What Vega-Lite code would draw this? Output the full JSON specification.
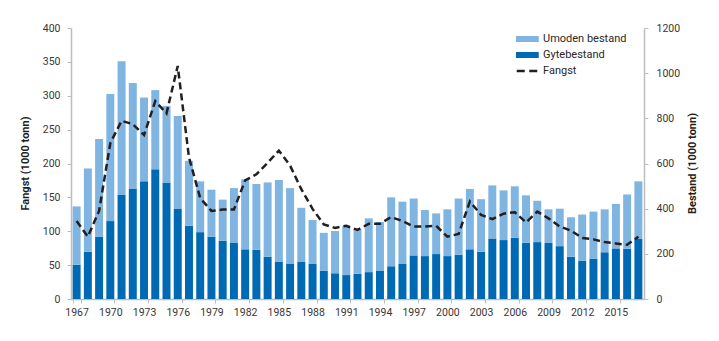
{
  "$schema": "https://vega.github.io/schema/vega-lite/v6.json",
  "autosize": {"type": "none"},
  "width": 573,
  "height": 271,
  "padding": {"left": 71, "top": 28, "right": 75, "bottom": 42},
  "background": "white",
  "config": {
    "view": {"stroke": null},
    "font": "Roboto",
    "axis": {
      "domainColor": "#bdbdbd",
      "domainWidth": 1.5,
      "tickColor": "#bdbdbd",
      "tickSize": 4,
      "labelColor": "#3a3535",
      "labelFont": "Roboto",
      "labelFontSize": 10.5,
      "titleFont": "Roboto",
      "titleFontSize": 11,
      "titleFontWeight": "bold",
      "titleColor": "#231f20",
      "grid": false
    }
  },
  "data": {
    "values": [
      {"year": 1967, "Gytebestand": 152, "Umoden bestand": 258, "Fangst": 115},
      {"year": 1968, "Gytebestand": 209, "Umoden bestand": 369, "Fangst": 92},
      {"year": 1969, "Gytebestand": 276, "Umoden bestand": 432, "Fangst": 130},
      {"year": 1970, "Gytebestand": 345, "Umoden bestand": 563, "Fangst": 230},
      {"year": 1971, "Gytebestand": 460, "Umoden bestand": 593, "Fangst": 263},
      {"year": 1972, "Gytebestand": 487, "Umoden bestand": 469, "Fangst": 258},
      {"year": 1973, "Gytebestand": 521, "Umoden bestand": 371, "Fangst": 242},
      {"year": 1974, "Gytebestand": 574, "Umoden bestand": 351, "Fangst": 292},
      {"year": 1975, "Gytebestand": 516, "Umoden bestand": 339, "Fangst": 274},
      {"year": 1976, "Gytebestand": 398, "Umoden bestand": 412, "Fangst": 344},
      {"year": 1977, "Gytebestand": 324, "Umoden bestand": 288, "Fangst": 209},
      {"year": 1978, "Gytebestand": 296, "Umoden bestand": 225, "Fangst": 149},
      {"year": 1979, "Gytebestand": 276, "Umoden bestand": 208, "Fangst": 130},
      {"year": 1980, "Gytebestand": 258, "Umoden bestand": 182, "Fangst": 132},
      {"year": 1981, "Gytebestand": 248, "Umoden bestand": 243, "Fangst": 132},
      {"year": 1982, "Gytebestand": 220, "Umoden bestand": 310, "Fangst": 175},
      {"year": 1983, "Gytebestand": 218, "Umoden bestand": 291, "Fangst": 184},
      {"year": 1984, "Gytebestand": 187, "Umoden bestand": 329, "Fangst": 201},
      {"year": 1985, "Gytebestand": 164, "Umoden bestand": 363, "Fangst": 219},
      {"year": 1986, "Gytebestand": 155, "Umoden bestand": 336, "Fangst": 197},
      {"year": 1987, "Gytebestand": 164, "Umoden bestand": 240, "Fangst": 162},
      {"year": 1988, "Gytebestand": 155, "Umoden bestand": 195, "Fangst": 133},
      {"year": 1989, "Gytebestand": 125, "Umoden bestand": 168, "Fangst": 110},
      {"year": 1990, "Gytebestand": 114, "Umoden bestand": 187, "Fangst": 105},
      {"year": 1991, "Gytebestand": 106, "Umoden bestand": 216, "Fangst": 108},
      {"year": 1992, "Gytebestand": 112, "Umoden bestand": 198, "Fangst": 102},
      {"year": 1993, "Gytebestand": 119, "Umoden bestand": 238, "Fangst": 111},
      {"year": 1994, "Gytebestand": 124, "Umoden bestand": 217, "Fangst": 111},
      {"year": 1995, "Gytebestand": 145, "Umoden bestand": 305, "Fangst": 121},
      {"year": 1996, "Gytebestand": 155, "Umoden bestand": 276, "Fangst": 115},
      {"year": 1997, "Gytebestand": 193, "Umoden bestand": 252, "Fangst": 107},
      {"year": 1998, "Gytebestand": 190, "Umoden bestand": 204, "Fangst": 107},
      {"year": 1999, "Gytebestand": 199, "Umoden bestand": 180, "Fangst": 108},
      {"year": 2000, "Gytebestand": 190, "Umoden bestand": 207, "Fangst": 92},
      {"year": 2001, "Gytebestand": 196, "Umoden bestand": 249, "Fangst": 96},
      {"year": 2002, "Gytebestand": 220, "Umoden bestand": 267, "Fangst": 144},
      {"year": 2003, "Gytebestand": 209, "Umoden bestand": 233, "Fangst": 124},
      {"year": 2004, "Gytebestand": 268, "Umoden bestand": 235, "Fangst": 118},
      {"year": 2005, "Gytebestand": 261, "Umoden bestand": 220, "Fangst": 126},
      {"year": 2006, "Gytebestand": 271, "Umoden bestand": 228, "Fangst": 128},
      {"year": 2007, "Gytebestand": 249, "Umoden bestand": 210, "Fangst": 113},
      {"year": 2008, "Gytebestand": 252, "Umoden bestand": 183, "Fangst": 129},
      {"year": 2009, "Gytebestand": 248, "Umoden bestand": 149, "Fangst": 119},
      {"year": 2010, "Gytebestand": 234, "Umoden bestand": 166, "Fangst": 107},
      {"year": 2011, "Gytebestand": 187, "Umoden bestand": 175, "Fangst": 101},
      {"year": 2012, "Gytebestand": 169, "Umoden bestand": 205, "Fangst": 90},
      {"year": 2013, "Gytebestand": 179, "Umoden bestand": 208, "Fangst": 88},
      {"year": 2014, "Gytebestand": 207, "Umoden bestand": 190, "Fangst": 84},
      {"year": 2015, "Gytebestand": 224, "Umoden bestand": 197, "Fangst": 82},
      {"year": 2016, "Gytebestand": 222, "Umoden bestand": 241, "Fangst": 80},
      {"year": 2017, "Gytebestand": 266, "Umoden bestand": 255, "Fangst": 92}
    ]
  },
  "encoding": {
    "x": {
      "field": "year",
      "type": "ordinal",
      "scale": {"paddingInner": 0.29, "paddingOuter": 0.145},
      "axis": {
        "title": null,
        "labelAngle": 0,
        "values": [1967, 1970, 1973, 1976, 1979, 1982, 1985, 1988, 1991, 1994, 1997, 2000, 2003, 2006, 2009, 2012, 2015],
        "tickBand": "extent",
        "labelPadding": 4
      }
    }
  },
  "layer": [
    {
      "transform": [
        {"fold": ["Gytebestand", "Umoden bestand"], "as": ["serie", "bestand"]}
      ],
      "mark": {"type": "bar"},
      "encoding": {
        "y": {
          "field": "bestand",
          "type": "quantitative",
          "stack": "zero",
          "scale": {"domain": [0, 1200], "nice": false},
          "axis": {
            "orient": "right",
            "title": "Bestand (1000 tonn)",
            "format": "d",
            "values": [0, 200, 400, 600, 800, 1000, 1200],
            "labelPadding": 8,
            "titleAngle": -90,
            "titleX": 48,
            "titleY": 135,
            "titleAlign": "center",
            "titleBaseline": "middle"
          }
        },
        "order": {"field": "serie", "sort": "ascending"},
        "color": {
          "field": "serie",
          "type": "nominal",
          "scale": {
            "domain": ["Umoden bestand", "Gytebestand", "Fangst"],
            "range": ["#80b4e1", "#0069b4", "#231f20"]
          },
          "legend": {
            "orient": "none",
            "legendX": 445,
            "legendY": 5,
            "title": null,
            "padding": 0,
            "symbolType": "stroke",
            "symbolSize": 1190,
            "clipHeight": 12,
            "rowPadding": 4,
            "labelOffset": 16,
            "labelFont": "Roboto",
            "labelFontSize": 11,
            "labelColor": "#2a2626",
            "symbolStrokeWidth": 6,
            "encode": {
              "symbols": {
                "update": {
                  "fill": {"value": "transparent"},
                  "stroke": {"scale": "color", "field": "value"},
                  "strokeWidth": {"signal": "datum.value === 'Fangst' ? 2.5 : 6"},
                  "strokeDash": {"signal": "datum.value === 'Fangst' ? [8, 4.5] : [1, 0]"}
                }
              }
            }
          }
        }
      }
    },
    {
      "mark": {"type": "line", "strokeWidth": 2.5, "strokeDash": [7, 4]},
      "encoding": {
        "y": {
          "field": "Fangst",
          "type": "quantitative",
          "scale": {"domain": [0, 400], "nice": false},
          "axis": {
            "orient": "left",
            "title": "Fangst (1000 tonn)",
            "values": [0, 50, 100, 150, 200, 250, 300, 350, 400],
            "labelPadding": 7,
            "titleAngle": -90,
            "titleX": -46,
            "titleY": 135,
            "titleAlign": "center",
            "titleBaseline": "middle"
          }
        },
        "color": {"datum": "Fangst"}
      }
    }
  ],
  "resolve": {"scale": {"y": "independent"}}
}
